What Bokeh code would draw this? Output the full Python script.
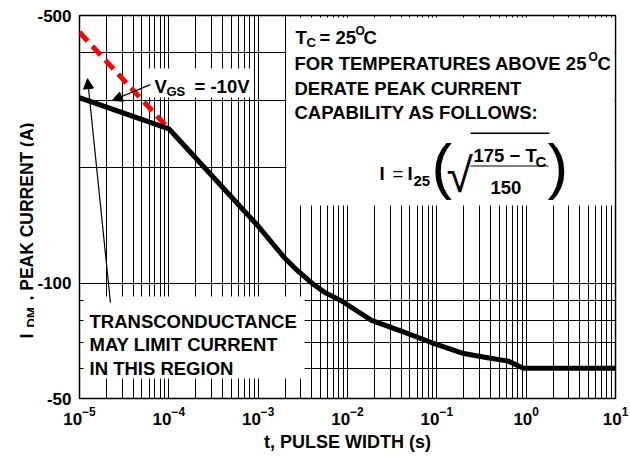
import math
from bokeh.plotting import figure
from bokeh.layouts import row
from bokeh.models import (Range1d, FixedTicker, LogTickFormatter, Label,
                          BoxAnnotation, Arrow, NormalHead)
from bokeh.embed import file_html
from bokeh.resources import INLINE

# ---------------- data ----------------
pulse_width_s = [1e-5, 1e-4, 1e-3, 2e-3, 2.8e-3, 4e-3, 5.6e-3, 8.5e-3,
                 1.86e-2, 4e-2, 8.7e-2, 0.2, 0.37, 0.63, 0.93, 10]
peak_current_a = [305, 253, 141, 116, 107.5, 100, 94.5, 90,
                  80, 75, 70, 65.5, 63.9, 62.6, 60, 60]

transcond_t = [1e-5, 1e-4]
transcond_i = [452, 253]

x_major = [1e-5, 1e-4, 1e-3, 1e-2, 1e-1, 1e0, 1e1]
x_minor = [m * 10.0 ** k for k in range(-5, 1) for m in range(2, 10)]
y_major = [50, 100, 500]
y_minor = [60, 70, 80, 90, 200, 300, 400]
y_labels = ["-50", "-100", "-500"]

# arrow annotations (t, I)
vgs_arrow = [6.2e-5, 330, 2.33e-5, 300]
gm_arrow = [2.22e-5, 89, 1.23e-5, 342]

FONT = "Liberation Sans"
LW = 34          # width of the strip holding the y-axis title
PW, PH = 630 - LW, 456

p = figure(width=PW, height=PH, x_axis_type="log", y_axis_type="log",
           x_range=Range1d(1e-5, 10), y_range=Range1d(50, 500),
           output_backend="svg", toolbar_location=None,
           min_border_left=77 - LW, min_border_right=15, min_border_top=15,
           min_border_bottom=58)
p.background_fill_color = "white"
p.border_fill_color = "white"
p.outline_line_color = "black"
p.outline_line_width = 1.5

xt = FixedTicker(ticks=x_major, minor_ticks=x_minor)
yt = FixedTicker(ticks=y_major, minor_ticks=y_minor)
p.xaxis.ticker = xt
p.yaxis.ticker = yt
p.xgrid.ticker = xt
p.ygrid.ticker = yt
p.xaxis.formatter = LogTickFormatter()
p.yaxis.major_label_overrides = {v: s for v, s in zip(y_major, y_labels)}

for g in (p.xgrid, p.ygrid):
    g.grid_line_color = "black"
    g.grid_line_width = 1
    g.grid_line_alpha = 1
    g.minor_grid_line_color = "black"
    g.minor_grid_line_width = 1

for ax in (p.xaxis, p.yaxis):
    ax.axis_line_color = None
    ax.major_tick_line_color = None
    ax.minor_tick_line_color = None
    ax.major_tick_out = 0
    ax.major_tick_in = 0
    ax.minor_tick_out = 0
    ax.minor_tick_in = 0
    ax.major_label_text_font = FONT
    ax.major_label_text_font_style = "bold"
    ax.major_label_text_font_size = "17px"
    ax.major_label_text_color = "black"
p.xaxis.major_label_standoff = 8
p.yaxis.major_label_standoff = 8
p.xaxis.axis_label = "t, PULSE WIDTH (s)"
p.xaxis.axis_label_text_font = FONT
p.xaxis.axis_label_text_font_style = "bold"
p.xaxis.axis_label_text_font_size = "18px"
p.xaxis.axis_label_text_color = "black"
p.xaxis.axis_label_standoff = 4

# curves
p.line(transcond_t, transcond_i, line_color="#ff0000", line_width=5,
       line_dash="12 7")
p.line(pulse_width_s, peak_current_a, line_color="black", line_width=5,
       line_join="round")

# ---------------- annotations ----------------
FL, FB = 77, 398  # page position of frame left / bottom


def sx(px):
    return px - FL


def sy(py):
    return FB - py


def box(l, t, r, b, color="white"):
    p.add_layout(BoxAnnotation(left=sx(l), right=sx(r), top=sy(t), bottom=sy(b),
                               left_units="screen", right_units="screen",
                               top_units="screen", bottom_units="screen",
                               fill_color=color, fill_alpha=1,
                               line_color=None))


def mk(text, x, y, size, bold, angle):
    return Label(x=x, y=y, x_units="screen", y_units="screen",
                 text=text, text_font=FONT,
                 text_font_style="bold" if bold else "normal",
                 text_font_size=f"{size}px", text_align="left",
                 text_baseline="alphabetic", angle=angle,
                 text_color="black")


def lab(text, px, py, size=18.5, bold=True, angle=0):
    p.add_layout(mk(text, sx(px), sy(py), size, bold, angle))


# white boxes
box(284, 17, 612, 205)
box(146, 68, 250, 97)
box(81, 296, 302, 378)

# arrows
for a in (vgs_arrow, gm_arrow):
    p.add_layout(Arrow(x_start=a[0], y_start=a[1], x_end=a[2], y_end=a[3],
                       line_color="black", line_width=1.2,
                       end=NormalHead(size=10, fill_color="black",
                                      line_color="black", line_width=1)))

# top-right note
lab("T", 293, 37)
lab("C", 304, 42, 13)
lab("= 25", 317, 37)
lab("O", 353, 30, 12)
lab("C", 361, 37)
lab("FOR TEMPERATURES ABOVE 25", 292, 63)
lab("O", 586, 56, 12)
lab("C", 595, 63)
lab("DERATE PEAK CURRENT", 292, 88)
lab("CAPABILITY AS FOLLOWS:", 292, 112)

# formula
lab("I", 377, 173)
lab("=", 390, 173, bold=False)
lab("I", 405, 173)
lab("25", 411, 180, 15)
lab("(", 429, 165, 62, bold=False)
lab("\u221a", 444, 175, 48, bold=False)
box(468, 132, 547, 133.5, "black")
lab("175 \u2212 T", 471, 155)
lab("C", 533, 161, 15)
box(468, 165, 546, 166, "black")
lab("150", 488, 187)
lab(")", 545, 165, 62, bold=False)

# V_GS
lab("V", 152, 86)
lab("GS", 164, 91, 13)
lab("= -10V", 192, 86)

# transconductance note
lab("TRANSCONDUCTANCE", 87, 321)
lab("MAY LIMIT CURRENT", 87, 344)
lab("IN THIS REGION", 87, 368)

# ---------------- y-axis title strip ----------------
# (its frame is aligned with the main frame by the row layout)
lf = figure(width=LW, height=PH, x_range=Range1d(0, 1), y_range=Range1d(0, 1),
            output_backend="svg", toolbar_location=None,
            min_border_left=0, min_border_right=0, min_border_top=0,
            min_border_bottom=0, x_axis_location=None, y_axis_location=None)
lf.outline_line_color = None
lf.background_fill_color = "white"
lf.border_fill_color = "white"
lf.xgrid.visible = False
lf.ygrid.visible = False
half_pi = math.pi / 2
lf.add_layout(mk("I", 26, sy(338), 17.5, True, half_pi))
lf.add_layout(mk("DM", 31, sy(327), 13, True, half_pi))
lf.add_layout(mk(", PEAK CURRENT (A)", 26, sy(300), 17.5, True, half_pi))

open("out.html", "w").write(file_html(row(lf, p), INLINE))
